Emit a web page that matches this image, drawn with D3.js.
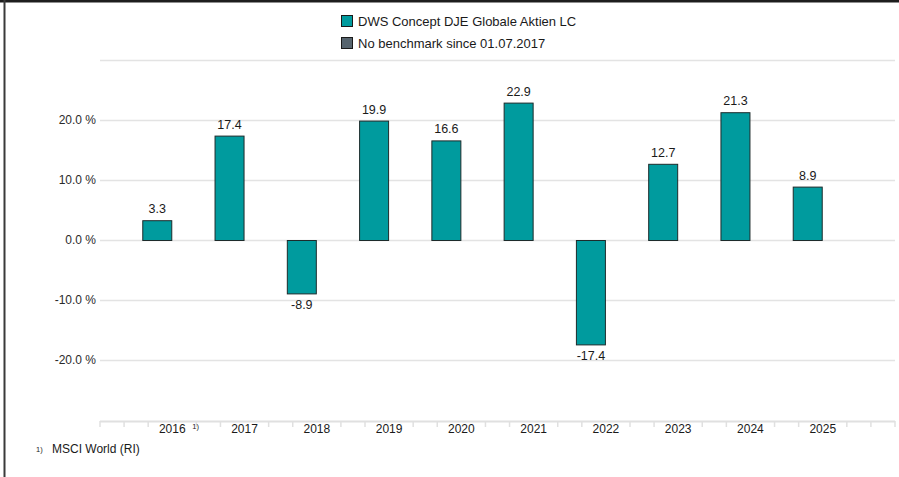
<!DOCTYPE html>
<html>
<head>
<meta charset="utf-8">
<script src="https://cdn.jsdelivr.net/npm/d3@7"></script>
<style>
  body { margin: 0; background: #fff; }
  svg { display: block; font-family: "Liberation Sans", Arial, sans-serif; }
</style>
</head>
<body>
<div id="chart"></div>
<script>
var years   = ['2016', '2017', '2018', '2019', '2020', '2021', '2022', '2023', '2024', '2025'];
var fund    = [3.3, 17.4, -8.9, 19.9, 16.6, 22.9, -17.4, 12.7, 21.3, 8.9];
var y_ticks = [-20, -10, 0, 10, 20];
var legend_items = ['DWS Concept DJE Globale Aktien LC', 'No benchmark since 01.07.2017'];

var width  = 899;
var height = 477;
var left   = 100;
var right  = 895;

// plain hyphen instead of unicode minus
var fmt = function(v) { return d3.format('.1f')(v).replace('\u2212', '-'); };

var svg = d3.select('#chart')
	.append('svg')
	.attr('width', width)
	.attr('height', height);

// frame lines (top and left)
svg.append('rect').attr('x', 0).attr('y', 0).attr('width', width).attr('height', 2.5).attr('fill', '#1e1e1e');
svg.append('rect').attr('x', 3.5).attr('y', 0).attr('width', 2).attr('height', height).attr('fill', '#3a3a3a');

// scales
var x_scale = d3.scaleBand()
	.domain(years)
	.range([left, right])
	.paddingOuter(0.5)
	.paddingInner(0);

var y_scale = d3.scaleLinear()
	.domain([-30, 30])
	.range([420, 60]);

var step = x_scale.step();

// gridlines
svg.append('g')
	.selectAll('line')
	.data([-20, -10, 0, 10, 20, 30])
	.enter()
	.append('line')
	.attr('x1', left)
	.attr('x2', right)
	.attr('y1', function(d) { return y_scale(d) + 0.5; })
	.attr('y2', function(d) { return y_scale(d) + 0.5; })
	.attr('stroke', '#e3e3e3')
	.attr('stroke-width', 1.5);

// y axis labels
var y_axis = d3.axisLeft(y_scale)
	.tickValues(y_ticks)
	.tickSize(0)
	.tickPadding(4)
	.tickFormat(function(d) { return fmt(d) + ' %'; });

var gy = svg.append('g')
	.attr('transform', 'translate(' + left + ',0)')
	.call(y_axis);
gy.select('.domain').remove();
gy.selectAll('text').attr('font-size', 12).attr('fill', '#2a2a2a').attr('font-family', '"Liberation Sans", Arial, sans-serif');

// x axis line and ticks
var gx = svg.append('g').attr('class', 'x-axis');
gx.append('line')
	.attr('x1', left).attr('x2', right)
	.attr('y1', y_scale(-30) + 1.5).attr('y2', y_scale(-30) + 1.5)
	.attr('stroke', '#e0e0e0').attr('stroke-width', 2);

var tick_x = [left, right];
years.forEach(function(y) {
	var b = x_scale(y);
	tick_x.push(b - step / 6, b + step / 6);
});
tick_x.push(x_scale(years[years.length - 1]) + step - step / 6, x_scale(years[years.length - 1]) + step + step / 6);
tick_x = tick_x.filter(function(t) { return t >= left - 0.5 && t <= right + 0.5; });

gx.selectAll('line.tick')
	.data(tick_x)
	.enter()
	.append('line')
	.attr('class', 'tick')
	.attr('x1', function(d) { return d; })
	.attr('x2', function(d) { return d; })
	.attr('y1', y_scale(-30) + 1)
	.attr('y2', y_scale(-30) + 7)
	.attr('stroke', '#e0e0e0')
	.attr('stroke-width', 1.5);

gx.selectAll('text.year')
	.data(years)
	.enter()
	.append('text')
	.attr('class', 'year')
	.attr('x', function(d) { return x_scale(d) + step / 2; })
	.attr('y', 433)
	.attr('text-anchor', 'middle')
	.attr('font-size', 12)
	.attr('fill', '#1a1a1a')
	.text(function(d) { return d; });

svg.append('text')
	.attr('x', x_scale('2016') + step / 2 + 20)
	.attr('y', 429)
	.attr('font-size', 7.5)
	.attr('fill', '#222')
	.text('1)');

// bars
var bar_w = 30;
var bars = years.map(function(y, i) { return { year: y, value: fund[i] }; });

svg.append('g')
	.selectAll('rect')
	.data(bars)
	.enter()
	.append('rect')
	.attr('x', function(d) { return x_scale(d.year) + step / 2 - bar_w + 0.5; })
	.attr('y', function(d) { return y_scale(Math.max(0, d.value)) + 0.5; })
	.attr('width', bar_w - 1)
	.attr('height', function(d) { return Math.abs(y_scale(d.value) - y_scale(0)); })
	.attr('fill', '#009b9e')
	.attr('stroke', '#1d2b2b')
	.attr('stroke-width', 1);

// value labels
svg.append('g')
	.selectAll('text')
	.data(bars)
	.enter()
	.append('text')
	.attr('x', function(d) { return x_scale(d.year) + step / 2 - bar_w / 2; })
	.attr('y', function(d) {
		return d.value >= 0 ? y_scale(d.value) - 7 : y_scale(d.value) + 16;
	})
	.attr('text-anchor', 'middle')
	.attr('font-size', 12.5)
	.attr('fill', '#1a1a1a')
	.text(function(d) { return fmt(d.value); });

// legend
var legend_colors = ['#009b9e', '#56646e'];
var lg = svg.append('g').attr('transform', 'translate(341,15)');
legend_items.forEach(function(t, i) {
	lg.append('rect')
		.attr('x', 0.5).attr('y', i * 22 + 0.5)
		.attr('width', 11).attr('height', 11)
		.attr('fill', legend_colors[i])
		.attr('stroke', '#1a1a1a');
	lg.append('text')
		.attr('x', 17).attr('y', i * 22 + 10.5)
		.attr('font-size', 13)
		.attr('fill', '#1a1a1a')
		.text(t);
});

// footnote
svg.append('text').attr('x', 36).attr('y', 452).attr('font-size', 7.5).attr('fill', '#222').text('1)');
svg.append('text').attr('x', 52).attr('y', 453).attr('font-size', 12).attr('fill', '#1a1a1a').text('MSCI World (RI)');
</script>
</body>
</html>
